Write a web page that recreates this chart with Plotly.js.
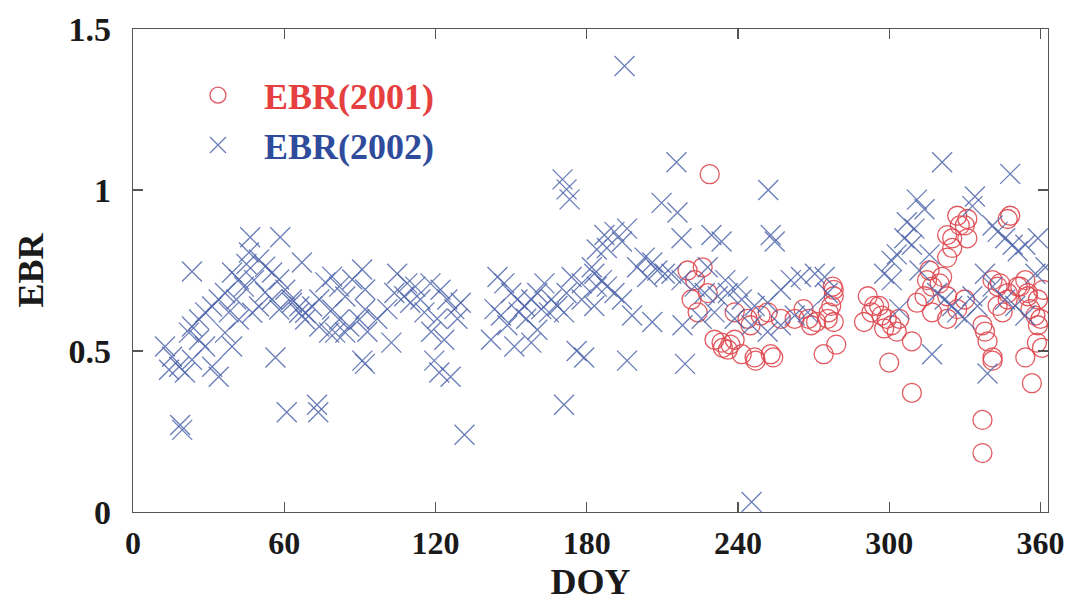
<!DOCTYPE html>
<html>
<head>
<meta charset="utf-8">
<script src="https://cdn.plot.ly/plotly-3.0.1.min.js"></script>
<style>html,body{margin:0;padding:0;background:#fff;}#chart{width:1067px;height:602px;}</style>
</head>
<body>
<div id="chart"></div>
<script>
// EBR 2001 (red circles)
const doy2001 = [220,223,226,221.6,224,228,228.8,
 230.7,233.5,236,238.7,241.5,234,237,
 246.6,253,247,254,
 238.7,243.8,251.8,257,262.5,245,249,
 266,269,274,275.6,271,268,277.6,278,276,279,278,277,278,
 290,291.5,293,294,296,297,298,299,301,303,304,
 300,309,309,
 311,314,315,316,317,317,320,321,323,323,325,325,327,328,330,331,331,323,323,327,330,
 337,338,339,341,341,337,337,
 341,343,343,344,345,347,347,347,348,
 351,352,354,355,355,356,358,359,359,360,360.6,361,354,356.6,358.6];
const ebr2001 = [0.75,0.72,0.76,0.66,0.62,0.68,1.049,
 0.535,0.526,0.504,0.535,0.49,0.51,0.52,
 0.48,0.49,0.47,0.48,
 0.62,0.60,0.62,0.60,0.60,0.58,0.61,
 0.63,0.58,0.49,0.60,0.59,0.60,0.70,0.67,0.62,0.52,0.69,0.64,0.59,
 0.59,0.67,0.62,0.64,0.64,0.61,0.57,0.60,0.58,0.56,0.60,
 0.464,0.37,0.53,
 0.65,0.67,0.72,0.75,0.70,0.62,0.71,0.73,0.79,0.86,0.85,0.82,0.92,0.89,0.89,0.85,0.91,0.67,0.60,0.63,0.66,
 0.58,0.56,0.53,0.48,0.47,0.286,0.183,
 0.72,0.70,0.64,0.71,0.62,0.66,0.68,0.91,0.92,
 0.70,0.70,0.72,0.67,0.68,0.63,0.61,0.66,0.58,0.60,0.51,0.69,0.48,0.40,0.526];

// EBR 2002 (blue crosses)
const doy2002 = [12.7,15.5,18.3,20.6,14.3,23.4,31.4,34,39.3,36.5,42,
 18.7,19.5,23.4,
 39.3,42,36.5,34,31.4,28.6,26.2,23.4,22.2,26.2,28.6,
 46.5,58.4,
 46,50,52.4,55.2,58,60.4,63,66,68.3,
 52.4,55.2,50,47.3,58,63.1,65.9,68.3,71.1,73.9,76.3,79,81.8,84.2,87,90.9,92.1,79,81.8,85.8,89.8,92.1,73.9,77.8,80.2,84.2,
 67,56.5,61,73,73.5,91,92,
 44,48,45,41,38,
 93,96.9,100.9,103.7,104.8,107.6,108.8,102.5,112,110,114,
 115.6,118,118.3,119.5,120.7,122,123.5,124.7,126,127.5,128.7,130,131.5,121.5,
 142,143.4,144.6,146,147.3,148.5,150,151.3,152.5,155.3,158,158,160.4,160.4,163.2,166,168.4,171,
 170.4,172,173.2,171,
 172,174,176,178,178,179,182,183,184,184,
 153,156,162,165,
 183,186,188,191,194,187,191,196,188,194,
 195,196,198,
 203,206,208,211,206,200,204,
 209.7,215.6,216,217.6,218,219,
 213.6,217.6,222.8,226.8,232,236,241.5,246.6,251.8,257,261,265,270.5,274.4,275.6,
 238.7,245.4,251.8,257,262.5,267.7,230.7,225.6,
 229.5,233.5,252,253,254.6,245.4,
 228,235,240,
 298,301,303,301,306,309,307,310,311,314,317,321,
 319,322,325,327,330,333,335,
 333,334,339,
 338,341,346,350,354,
 341,343,346,349,351,354,359,362,358,
 348,304,312,316];
const ebr2002 = [0.514,0.482,0.451,0.433,0.442,0.473,0.451,0.42,0.514,0.557,0.598,
 0.27,0.255,0.747,
 0.744,0.722,0.68,0.66,0.638,0.62,0.598,0.576,0.557,0.535,0.514,
 0.853,0.853,
 0.806,0.784,0.762,0.744,0.722,0.69,0.66,0.638,0.619,
 0.682,0.66,0.638,0.619,0.629,0.65,0.619,0.598,0.638,0.66,0.713,0.731,0.70,0.669,0.722,0.753,0.691,0.629,0.598,0.576,0.598,0.629,0.576,0.557,0.557,0.557,
 0.775,0.48,0.31,0.333,0.31,0.47,0.46,
 0.70,0.72,0.77,0.66,0.62,
 0.56,0.60,0.63,0.68,0.74,0.67,0.71,0.526,0.70,0.65,0.66,
 0.62,0.71,0.56,0.47,0.60,0.69,0.535,0.66,0.42,0.63,0.60,0.65,0.24,0.433,
 0.535,0.63,0.73,0.61,0.71,0.58,0.68,0.514,0.66,0.64,0.66,0.526,0.68,0.566,0.71,0.66,0.64,0.62,
 1.033,1.002,0.971,0.333,
 0.68,0.73,0.50,0.71,0.66,0.48,0.76,0.64,0.815,0.70,
 0.62,0.60,0.63,0.62,
 0.74,0.72,0.70,0.68,0.66,0.86,0.87,0.88,0.82,0.84,
 1.385,0.47,0.61,
 0.79,0.775,0.75,0.74,0.59,0.76,0.73,
 0.96,1.086,0.93,0.85,0.58,0.46,
 0.74,0.72,0.70,0.68,0.67,0.68,0.66,0.64,0.65,0.69,0.72,0.73,0.74,0.73,0.68,
 0.60,0.58,0.56,0.58,0.61,0.62,0.62,0.60,
 0.86,0.84,1.0,0.86,0.84,0.031,
 0.76,0.72,0.70,
 0.74,0.78,0.80,0.72,0.85,0.83,0.90,0.88,0.97,0.94,0.49,1.086,
 0.68,0.66,0.64,0.62,0.60,0.67,0.64,
 0.95,0.98,0.43,
 0.74,0.70,0.66,0.64,0.61,
 0.89,0.87,0.85,0.83,0.81,0.83,0.85,0.76,0.74,
 1.05,0.63,0.75,0.80];

const xTicks = [0,60,120,180,240,300,360];
const yTicks = [0,0.5,1,1.5];
const yTickText = ['0','0.5','1','1.5'];

const serif = 'Liberation Serif, Times New Roman, serif';

const traces = [
 {x: doy2001, y: ebr2001, type:'scatter', mode:'markers',
  name:'<span style="color:#e5403f"><b>EBR(2001)</b></span>',
  marker:{symbol:'circle-open', size:19, color:'rgba(222,72,80,0.9)', line:{width:1.3}}},
 {x: doy2002, y: ebr2002, type:'scatter', mode:'markers',
  name:'<span style="color:#2f4b9c"><b>EBR(2002)</b></span>',
  marker:{symbol:'x-thin-open', size:20, color:'rgba(80,102,172,0.85)', line:{width:1.3, color:'rgba(80,102,172,0.85)'}}}
];

const axisCommon = {
  showgrid:false, zeroline:false, showline:true, linecolor:'#555', linewidth:1.2,
  mirror:'ticks', ticks:'inside', ticklen:10, tickwidth:1.2, tickcolor:'#555',
  tickfont:{family:serif, size:34, color:'#1a1a1a', weight:'bold'}
};

const layout = {
  width:1067, height:602,
  margin:{l:133, r:19, t:29, b:90},
  paper_bgcolor:'#fff', plot_bgcolor:'#fff',
  showlegend:true,
  legend:{x:0.0426, y:0.925, xanchor:'left', yanchor:'top', bgcolor:'rgba(0,0,0,0)',
    font:{family:serif, size:36}, tracegroupgap:0, itemwidth:82},
  xaxis:Object.assign({}, axisCommon, {range:[0,363], tickvals:xTicks, ticklabelstandoff:2,
    ticklabeloverflow:'allow', tickfont:{family:serif, size:32, color:'#1a1a1a', weight:'bold'},
    title:{text:'<b>DOY</b>', font:{family:serif, size:36, color:'#1a1a1a'}, standoff:10}}),
  yaxis:Object.assign({}, axisCommon, {range:[0,1.5], tickvals:yTicks, ticktext:yTickText, ticklabelstandoff:14,
    title:{text:'<b>EBR</b>', font:{family:serif, size:36, color:'#1a1a1a'}, standoff:14}})
};

Plotly.newPlot('chart', traces, layout, {staticPlot:true, displayModeBar:false});
</script>
</body>
</html>
